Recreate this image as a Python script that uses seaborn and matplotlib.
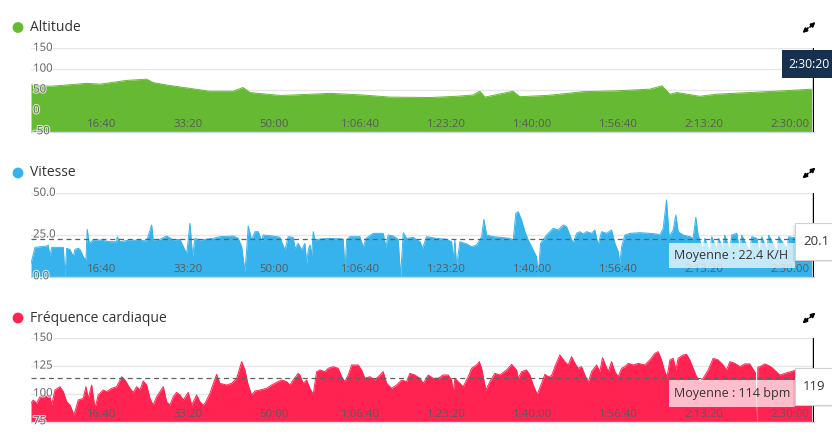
import matplotlib
matplotlib.use('Agg')
import matplotlib.pyplot as plt
import matplotlib.patheffects as pe
import matplotlib.transforms as mtransforms
from matplotlib.patches import Rectangle, Circle
import seaborn as sns

# elapsed time in seconds
alt_t = [175, 395, 589, 822, 976, 1286, 1519, 1592, 1751, 1984, 2254, 2522, 2638, 2719,
         2913, 3068, 3219, 3649, 4032, 4346, 4811, 5124, 5310, 5392, 5450, 5775, 5857,
         6170, 6321, 6589, 6984, 7367, 7507, 7600, 7681, 7948, 8146, 8529, 8913, 9246]
alt_v = [62, 59, 62, 66, 64, 73, 76, 68, 62, 55, 47, 47, 56, 44,
         40, 37, 38, 42, 38, 33, 32, 35, 38, 47, 33, 47, 34,
         37, 40, 46, 48, 52, 60, 40, 44, 35, 40, 44, 48, 52]

speed_t = [175, 221, 360, 375, 395, 415, 550, 569, 589, 627, 666, 686, 724, 744, 782, 813,
           828, 852, 898, 976, 1092, 1170, 1177, 1208, 1325, 1519, 1577, 1595, 1673, 1751,
           1828, 1906, 1964, 1984, 2002, 2022, 2053, 2080, 2138, 2293, 2370, 2525, 2583,
           2623, 2661, 2681, 2699, 2739, 2777, 2816, 2855, 2874, 2990, 3068, 3126, 3164,
           3222, 3242, 3280, 3320, 3358, 3378, 3397, 3416, 3436, 3455, 3475, 3532, 3649,
           3803, 3823, 3843, 3881, 3997, 4036, 4067, 4152, 4268, 4300, 4326, 4384, 4442,
           4470, 4501, 4540, 4617, 4695, 4726, 4772, 4888, 5005, 5063, 5081, 5101, 5121,
           5159, 5237, 5295, 5353, 5412, 5438, 5470, 5546, 5624, 5740, 5779, 5810, 5837,
           5876, 5915, 5953, 6011, 6050, 6069, 6097, 6167, 6243, 6301, 6360, 6399, 6437,
           6476, 6515, 6554, 6592, 6631, 6690, 6728, 6766, 6806, 6864, 6922, 6961, 6999,
           7019, 7039, 7077, 7135, 7251, 7367, 7445, 7483, 7522, 7561, 7591, 7638, 7669,
           7696, 7754, 7832, 7870, 7901, 7928, 7983, 8006, 8064, 8087, 8145, 8168, 8215,
           8238, 8296, 8319, 8377, 8412, 8435, 8529, 8552, 8610, 8645, 8668, 8726, 8749,
           8842, 8865, 8958, 8982, 9072, 9148, 9246]
speed_v = [8, 17.6, 18.4, 19, 12, 17.6, 17.6, 0, 17, 16.4, 12, 16.4, 17, 16.4, 12, 10,
           28.4, 20, 22, 22, 21, 21, 24, 21, 22, 21.5, 31, 22, 22.4, 24.4,
           22, 22.4, 16, 14, 22, 32, 12, 23, 22, 23, 24, 24.4, 23,
           18, 3, 16, 30.4, 22, 27, 27, 21, 25, 24.4, 23.6, 16, 24,
           23.6, 17, 20, 16, 20, 8, 16, 19, 13, 27, 22, 22.6, 23,
           22.6, 4, 22, 24, 24, 17.6, 23, 26, 26, 17.6, 25, 24.4, 22.4,
           0, 26.4, 23, 23.6, 21, 17, 24, 23, 22.4, 21, 10, 22, 6,
           21, 19.6, 18, 19, 24, 34.4, 25, 24, 23.6, 23, 22, 38, 39,
           34, 27, 22, 16, 12, 0, 20, 25, 29, 28, 31, 30, 25,
           20, 26, 27, 25.6, 27, 26, 28, 19, 27, 26, 28, 20, 15,
           8, 18, 25, 26, 26.4, 26, 25.6, 25, 29, 46, 24, 28, 37,
           27, 25, 24, 23, 35.6, 25, 16, 23, 15, 24, 16, 23, 17,
           25, 16, 25, 26, 15, 25, 15, 24, 23, 14, 24, 16, 25,
           15, 24, 17, 24, 23, 20, 20.1]

hr_t = [175, 201, 241, 279, 337, 395, 415, 453, 511, 550, 589, 627, 674, 724, 782, 813,
        840, 880, 918, 956, 1014, 1054, 1112, 1170, 1229, 1267, 1325, 1363, 1403, 1441,
        1479, 1519, 1557, 1595, 1635, 1712, 1751, 1789, 1828, 1867, 1906, 1945, 2002,
        2042, 2100, 2138, 2176, 2196, 2254, 2332, 2370, 2448, 2506, 2565, 2623, 2661,
        2699, 2739, 2777, 2835, 2913, 2971, 3029, 3087, 3146, 3184, 3222, 3280, 3300,
        3338, 3378, 3416, 3455, 3494, 3532, 3590, 3629, 3687, 3745, 3785, 3823, 3861,
        3901, 3978, 4017, 4055, 4113, 4172, 4230, 4268, 4308, 4366, 4424, 4482, 4540,
        4578, 4636, 4695, 4733, 4791, 4849, 4907, 4965, 5023, 5063, 5081, 5101, 5159,
        5198, 5256, 5295, 5353, 5384, 5412, 5461, 5508, 5566, 5624, 5702, 5760, 5818,
        5837, 5876, 5934, 5973, 6011, 6058, 6109, 6147, 6185, 6225, 6263, 6321, 6379,
        6418, 6457, 6496, 6534, 6573, 6612, 6650, 6690, 6748, 6786, 6817, 6844, 6883,
        6922, 6961, 6999, 7039, 7077, 7116, 7174, 7232, 7309, 7367, 7425, 7464, 7503,
        7541, 7568, 7600, 7638, 7669, 7696, 7754, 7793, 7832, 7870, 7910, 7948, 7986,
        8045, 8103, 8161, 8219, 8258, 8297, 8355, 8413, 8471, 8529, 8568, 8593, 8603,
        8614, 8622, 8645, 8703, 8761, 8796, 8878, 8960, 9052, 9110, 9168, 9246]
hr_v = [91.5, 94.5, 91.5, 97.5, 99, 98.4, 90, 103.5, 106.5, 102, 93, 90, 81, 94.5, 96, 106.5,
        96, 108, 87, 99, 103.5, 102, 105, 106.5, 115.5, 112.5, 105, 101.4, 106.5, 103.5,
        111.6, 108, 96, 90, 97.5, 106.5, 93, 90, 97.5, 101.4, 99, 94.5, 101.4,
        90, 99, 93, 90, 91.5, 100.5, 117.6, 109.5, 108, 109.5, 114, 129, 121.5,
        108, 99, 102.6, 103.5, 105, 108, 110.4, 112.5, 111, 108, 112.5, 118.5, 117,
        109.5, 112.5, 105, 99.6, 120, 121.5, 120, 123, 124.5, 123, 115.5, 111, 117,
        126, 126, 121.5, 114, 115.5, 112.5, 117, 120, 109.5, 105, 108, 112.5, 111,
        118.5, 117, 114, 109.5, 117, 114, 114, 117, 117, 112.5, 100.5, 114, 109.5,
        106.5, 115.5, 123, 126, 129, 123, 103.5, 111, 118.5, 117, 121.5, 126.6, 121.5,
        114, 120, 121.5, 117, 108, 99.6, 109.5, 117.6, 115.5, 116.4, 124.5, 135, 129,
        126, 133.5, 127.5, 123, 124.5, 117, 110.4, 120, 126, 120, 132.6, 127.5, 120,
        129, 120, 115.5, 123, 124.5, 127.5, 126, 127.5, 126, 130.5, 136.5, 138, 130.5,
        120, 115.5, 130.5, 132, 121.5, 132, 135, 135.6, 130.5, 123, 115.5, 111, 114,
        121.5, 132, 130.5, 126, 121.5, 129, 127.5, 124.5, 127, 127, 122, 119, 75,
        75, 124, 124.5, 127, 125, 123, 117, 119, 121, 120, 119, 119]

speed_mean = 22.4
hr_mean = 114
speed_last = 20.1
hr_last = 119
cursor_label = "2:30:20"

tick_secs = [1000, 2000, 3000, 4000, 5000, 6000, 7000, 8000, 9000]
tick_labels = ["16:40", "33:20", "50:00", "1:06:40", "1:23:20", "1:40:00",
               "1:56:40", "2:13:20", "2:30:00"]

alt_ticks = [-50, 0, 50, 100, 150]
alt_tick_labels = ["-50", "0", "50", "100", "150"]
speed_ticks = [0, 25, 50]
speed_tick_labels = ["0.0", "25.0", "50.0"]
hr_ticks = [75, 100, 125, 150]
hr_tick_labels = ["75", "100", "125", "150"]

titles = ["Altitude", "Vitesse", "Fréquence cardiaque"]
colors = ["#66b933", "#36b3ec", "#fe2351"]

sns.set_theme(style="white")
plt.rcParams['font.family'] = ['Open Sans', 'DejaVu Sans']

fig = plt.figure(figsize=(8.32, 4.45), dpi=100)

panels = [
    (alt_t, alt_v, alt_ticks, alt_tick_labels, None),
    (speed_t, speed_v, speed_ticks, speed_tick_labels, speed_mean),
    (hr_t, hr_v, hr_ticks, hr_tick_labels, hr_mean),
]
bottoms = [0.70404, 0.37820, 0.05236]
x_left, x_right = 174.8, 9275
cursor_t = 9262

up = mtransforms.ScaledTranslation(0, 1.5 / 100, fig.dpi_scale_trans)

for (t, v, yt, ytl, mean), bottom, color in zip(panels, bottoms, colors):
    ax = fig.add_axes([31 / 832, bottom, 783 / 832, 83.4 / 445])
    ax.set_axisbelow(False)  # tick labels sit on top of the filled area
    ymin, ymax = yt[0], yt[-1]
    for y in yt:
        ax.axhline(y, color="#e6e6e6", lw=1, zorder=0.5)
    ax.fill_between(t, v, ymin, color=color, linewidth=0, zorder=1)
    sns.lineplot(x=t, y=v, ax=ax, color=color, linewidth=0.7,
                 estimator=None, sort=False, zorder=1.2)
    if mean is not None:
        ax.axhline(mean, color="#606060", lw=0.9, ls=(0, (4, 3)), zorder=3)
    ax.axvline(cursor_t, color="black", lw=1, zorder=4)

    ax.set_xlim(x_left, x_right)
    ax.set_ylim(ymin, ymax)
    ax.grid(False)
    for s in ["top", "left", "right"]:
        ax.spines[s].set_visible(False)
    ax.spines["bottom"].set_color("#ccd6eb")
    ax.spines["bottom"].set_linewidth(1)

    ax.set_xticks(tick_secs, tick_labels)
    ax.set_yticks(yt, ytl)
    ax.tick_params(axis="x", length=0, pad=-5.5, labelsize=8.2, labelcolor="#5a5a5a")
    ax.tick_params(axis="y", length=0, pad=-1.5, labelsize=8.2, labelcolor="#666666")
    for lbl in ax.get_xticklabels():
        lbl.set_va("center")
    for lbl in ax.get_yticklabels():
        lbl.set_ha("left")
        lbl.set_transform(lbl.get_transform() + up)
        lbl.set_path_effects([pe.withStroke(linewidth=1.6, foreground="white", alpha=0.7)])
    ax.set_xlabel("")
    ax.set_ylabel("")

# overlay in pixel units for titles, tooltips and icons
ov = fig.add_axes([0, 0, 1, 1], zorder=10)
ov.set_xlim(0, 832)
ov.set_ylim(445, 0)
ov.axis("off")

title_y = [27.5, 173, 318]
for title, color, ty in zip(titles, colors, title_y):
    ov.add_patch(Circle((18, ty), 5.4, color=color, lw=0))
    ov.text(29.5, ty, title, fontsize=10, color="#333333", va="center", ha="left")
    # expand icon
    ov.annotate("", xy=(815.5, ty - 5.5), xytext=(810, ty - 0.5),
                arrowprops=dict(arrowstyle="-|>", color="black", lw=1.3, mutation_scale=6,
                                shrinkA=0, shrinkB=0))
    ov.annotate("", xy=(802.5, ty + 5.5), xytext=(808, ty + 0.5),
                arrowprops=dict(arrowstyle="-|>", color="black", lw=1.3, mutation_scale=6,
                                shrinkA=0, shrinkB=0))

# mean labels
ov.add_patch(Rectangle((669, 243), 126, 25, facecolor="white", alpha=0.72, lw=0))
ov.text(674, 255.5, f"Moyenne : {speed_mean} K/H", fontsize=9, color="#333333", va="center")
ov.add_patch(Rectangle((669, 380), 126, 26.5, facecolor="white", alpha=0.7, lw=0))
ov.text(674, 394, f"Moyenne : {hr_mean} bpm", fontsize=9, color="#333333", va="center")

# cursor tooltips
ov.add_patch(Rectangle((782, 50), 55, 28, facecolor="#16304e", lw=0))
ov.text(788.5, 64, cursor_label, fontsize=8.8, color="white", va="center")
for (y0, txt) in [(223, f"{speed_last}"), (368, f"{hr_last}")]:
    ov.add_patch(Rectangle((793, y0 + 2), 45, 37, facecolor="#000000", alpha=0.08, lw=0))
    ov.add_patch(Rectangle((795, y0), 45, 37, facecolor="white", edgecolor="#d0d0d0", lw=0.8))
    ov.text(803, y0 + 18.5, txt, fontsize=9.5, color="#333333", va="center")

fig.savefig("out.png", dpi=100)
